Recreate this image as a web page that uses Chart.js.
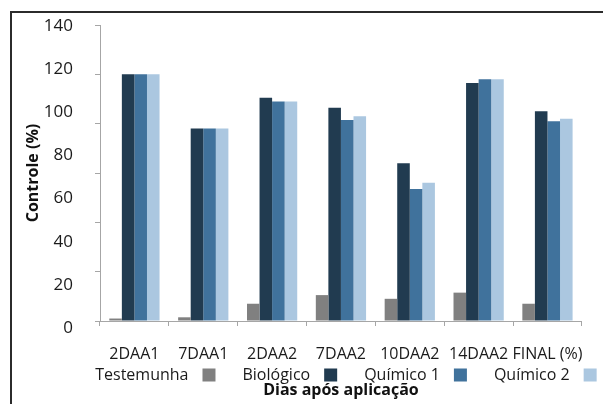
<!DOCTYPE html>
<html>
<head>
<meta charset="utf-8">
<script src="https://cdn.jsdelivr.net/npm/chart.js@4/dist/chart.umd.min.js"></script>
<style>
  html, body { margin: 0; padding: 0; background: #ffffff; }
  #wrap { position: relative; width: 603px; height: 404px; overflow: hidden; }
  #frame { position: absolute; left: 10px; top: 11px; right: -4px; bottom: -4px;
           border-left: 2px solid #2b2b2b; border-top: 2px solid #2b2b2b; pointer-events: none; }
  canvas { position: absolute; left: 0; top: 0; }
</style>
</head>
<body>
<div id="wrap">
  <canvas id="chart" width="603" height="404"></canvas>
  <div id="frame"></div>
</div>
<script>
// Dias após aplicação
const categories = ['2DAA1', '7DAA1', '2DAA2', '7DAA2', '10DAA2', '14DAA2', 'FINAL (%)'];

// Controle (%) por tratamento
const testemunha = [1, 1.5, 7, 10.5, 9, 11.5, 7];
const biologico  = [100, 78, 90.5, 86.5, 64, 96.5, 85];
const quimico1   = [100, 78, 89, 81.5, 53.5, 98, 81];
const quimico2   = [100, 78, 89, 83, 56, 98, 82];

// Printed labels of the vertical axis
const yTickLabels = [0, 20, 40, 60, 80, 100, 120, 140];

const FONT = '"Open Sans", Lato, sans-serif';

// Legend row drawn between the category labels and the axis title,
// with each swatch placed after its text.
const legendRow = {
  id: 'legendRow',
  afterDraw(chart, args, opts) {
    const ctx = chart.ctx;
    const area = chart.chartArea;
    ctx.save();
    ctx.font = opts.fontSize + 'px ' + FONT;
    ctx.textBaseline = 'middle';
    ctx.textAlign = 'left';
    const items = chart.data.datasets.map(ds => ({
      label: ds.label,
      color: ds.backgroundColor,
      w: ctx.measureText(ds.label).width
    }));
    const itemW = it => it.w + opts.gap + opts.box;
    const total = items.reduce((s, it) => s + itemW(it), 0) + opts.spacing * (items.length - 1);
    let x = (area.left + area.right) / 2 + opts.shift - total / 2;
    const y = area.bottom + opts.offsetY;
    items.forEach(it => {
      ctx.fillStyle = '#1a1a1a';
      ctx.fillText(it.label, x, y);
      x += it.w + opts.gap;
      ctx.fillStyle = it.color;
      ctx.fillRect(x, y - opts.box / 2, opts.box, opts.box);
      x += opts.box + opts.spacing;
    });
    ctx.restore();
  }
};

new Chart(document.getElementById('chart'), {
  type: 'bar',
  data: {
    labels: categories,
    datasets: [
      { label: 'Testemunha', data: testemunha, backgroundColor: '#808080' },
      { label: 'Biológico',  data: biologico,  backgroundColor: '#213b50' },
      { label: 'Químico 1',  data: quimico1,   backgroundColor: '#40729c' },
      { label: 'Químico 2',  data: quimico2,   backgroundColor: '#abc7e0' }
    ]
  },
  options: {
    responsive: false,
    animation: false,
    devicePixelRatio: 1,
    layout: { padding: { left: 20, top: 25, right: 21, bottom: 0 } },
    datasets: { bar: { categoryPercentage: 0.73, barPercentage: 1.0 } },
    plugins: {
      legend: { display: false },
      tooltip: { enabled: false },
      legendRow: { fontSize: 16, gap: 14, box: 13, spacing: 27, offsetY: 54, shift: 5 }
    },
    scales: {
      x: {
        grid: { display: true, drawOnChartArea: false, drawTicks: true, tickLength: 5, color: '#a6a6a6', offset: true },
        border: { color: '#a6a6a6' },
        ticks: { color: '#1a1a1a', font: { family: FONT, size: 16 }, padding: 19, maxRotation: 0, autoSkip: false },
        title: { display: true, text: 'Dias após aplicação', color: '#111',
                 font: { family: FONT, size: 16, weight: 'bold' }, padding: { top: 0, bottom: 4 } },
        afterFit(scale) { scale.height = 83; }
      },
      y: {
        position: 'left',
        weight: 0,
        min: 0,
        max: 120,
        ticks: { stepSize: 20, display: false, padding: 0 },
        grid: { display: true, drawOnChartArea: false, drawTicks: true, tickLength: 5, color: '#a6a6a6' },
        border: { color: '#a6a6a6' },
        afterFit(scale) { scale.width = 27; }
      },
      yl: {
        position: 'left',
        weight: 1,
        min: 0,
        max: 137.2,
        grid: { display: false, drawTicks: false },
        border: { display: false },
        ticks: { color: '#1a1a1a', font: { family: FONT, size: 17 }, padding: 0, labelOffset: 7 },
        afterBuildTicks(scale) { scale.ticks = yTickLabels.map(v => ({ value: v })); },
        title: { display: true, text: 'Controle (%)', color: '#111',
                 font: { family: FONT, size: 16, weight: 'bold' }, padding: { top: 4, bottom: 0 } },
        afterFit(scale) { scale.width = 53; }
      }
    }
  },
  plugins: [legendRow]
});
</script>
</body>
</html>
